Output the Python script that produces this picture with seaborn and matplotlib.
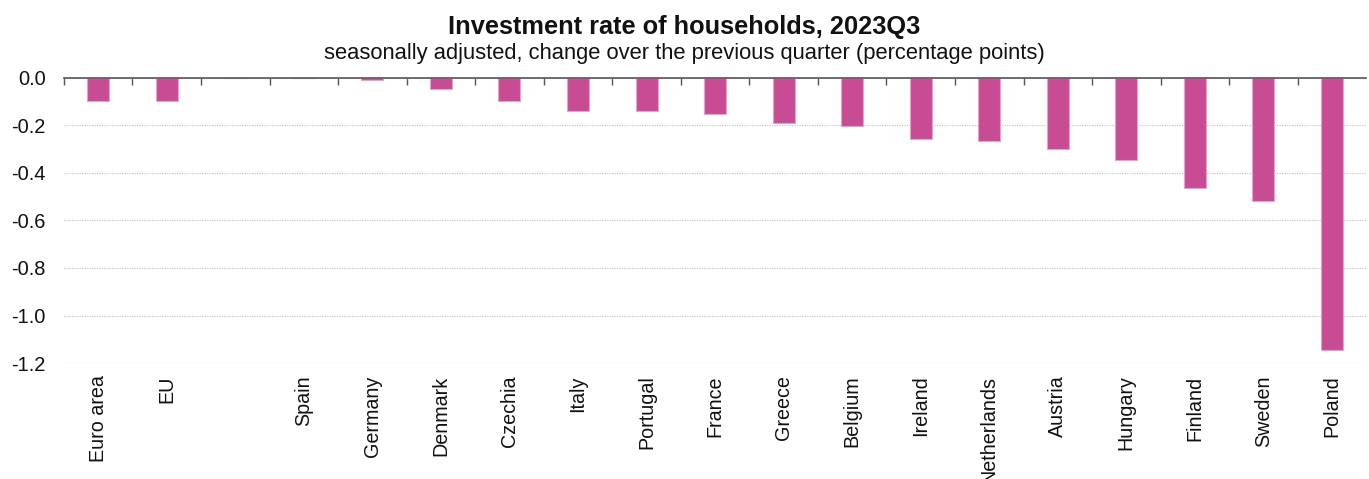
import pandas as pd
import matplotlib
matplotlib.use("Agg")
import matplotlib.pyplot as plt
from matplotlib.ticker import FixedLocator, MultipleLocator
import seaborn as sns

# Data (blank slot separates aggregates from countries)
countries = ["Euro area", "EU", " ", "Spain", "Germany", "Denmark", "Czechia", "Italy",
             "Portugal", "France", "Greece", "Belgium", "Ireland", "Netherlands",
             "Austria", "Hungary", "Finland", "Sweden", "Poland"]
change_pp = [-0.10, -0.10, 0.0, 0.0, -0.01, -0.05, -0.10, -0.14,
             -0.14, -0.155, -0.19, -0.205, -0.26, -0.265,
             -0.30, -0.345, -0.465, -0.52, -1.145]

df = pd.DataFrame({"country": countries, "value": change_pp})

sns.set_theme(style="white")
plt.rcParams["font.family"] = ["Liberation Sans", "DejaVu Sans"]

fig = plt.figure(figsize=(13.69, 4.79), dpi=100)
ax = fig.add_axes([0.0467, 0.242, 0.9513, 0.596])

sns.barplot(data=df, x="country", y="value", color="#C84C94", width=0.32,
            edgecolor="#E8A0CC", linewidth=0.8, saturation=1, ax=ax)

ax.set_xlim(-0.5, len(countries) - 0.5)
ax.set_ylim(-1.2, 0)
ax.yaxis.set_major_locator(MultipleLocator(0.2))
ax.set_yticklabels([f"{t:.1f}" for t in ax.get_yticks()])
ax.set_xlabel("")
ax.set_ylabel("")

# dotted horizontal gridlines
ax.grid(axis="y", linestyle=(0, (1, 1)), color="#c8c8c8", linewidth=0.9)
ax.set_axisbelow(True)

for s in ["left", "right", "bottom"]:
    ax.spines[s].set_visible(False)
ax.spines["top"].set_color("#555555")
ax.spines["top"].set_linewidth(1.2)

# tick marks between categories on the zero line
ax.xaxis.set_minor_locator(FixedLocator([i - 0.5 for i in range(len(countries))]))
ax.tick_params(axis="x", which="minor", top=True, bottom=False, direction="in",
               length=5, width=1, color="#555555")
ax.tick_params(axis="x", which="major", length=0, pad=9, labelsize=14.2, rotation=90,
               labelcolor="#111111")
ax.tick_params(axis="y", length=0, pad=13, labelsize=14.4, labelcolor="#111111")

fig.text(0.5, 0.944, "Investment rate of households, 2023Q3", ha="center", va="center",
         fontsize=18.3, fontweight="bold", color="#111111")
fig.text(0.5, 0.889, "seasonally adjusted, change over the previous quarter (percentage points)",
         ha="center", va="center", fontsize=15.8, color="#111111")

fig.savefig("out.png", dpi=100)
